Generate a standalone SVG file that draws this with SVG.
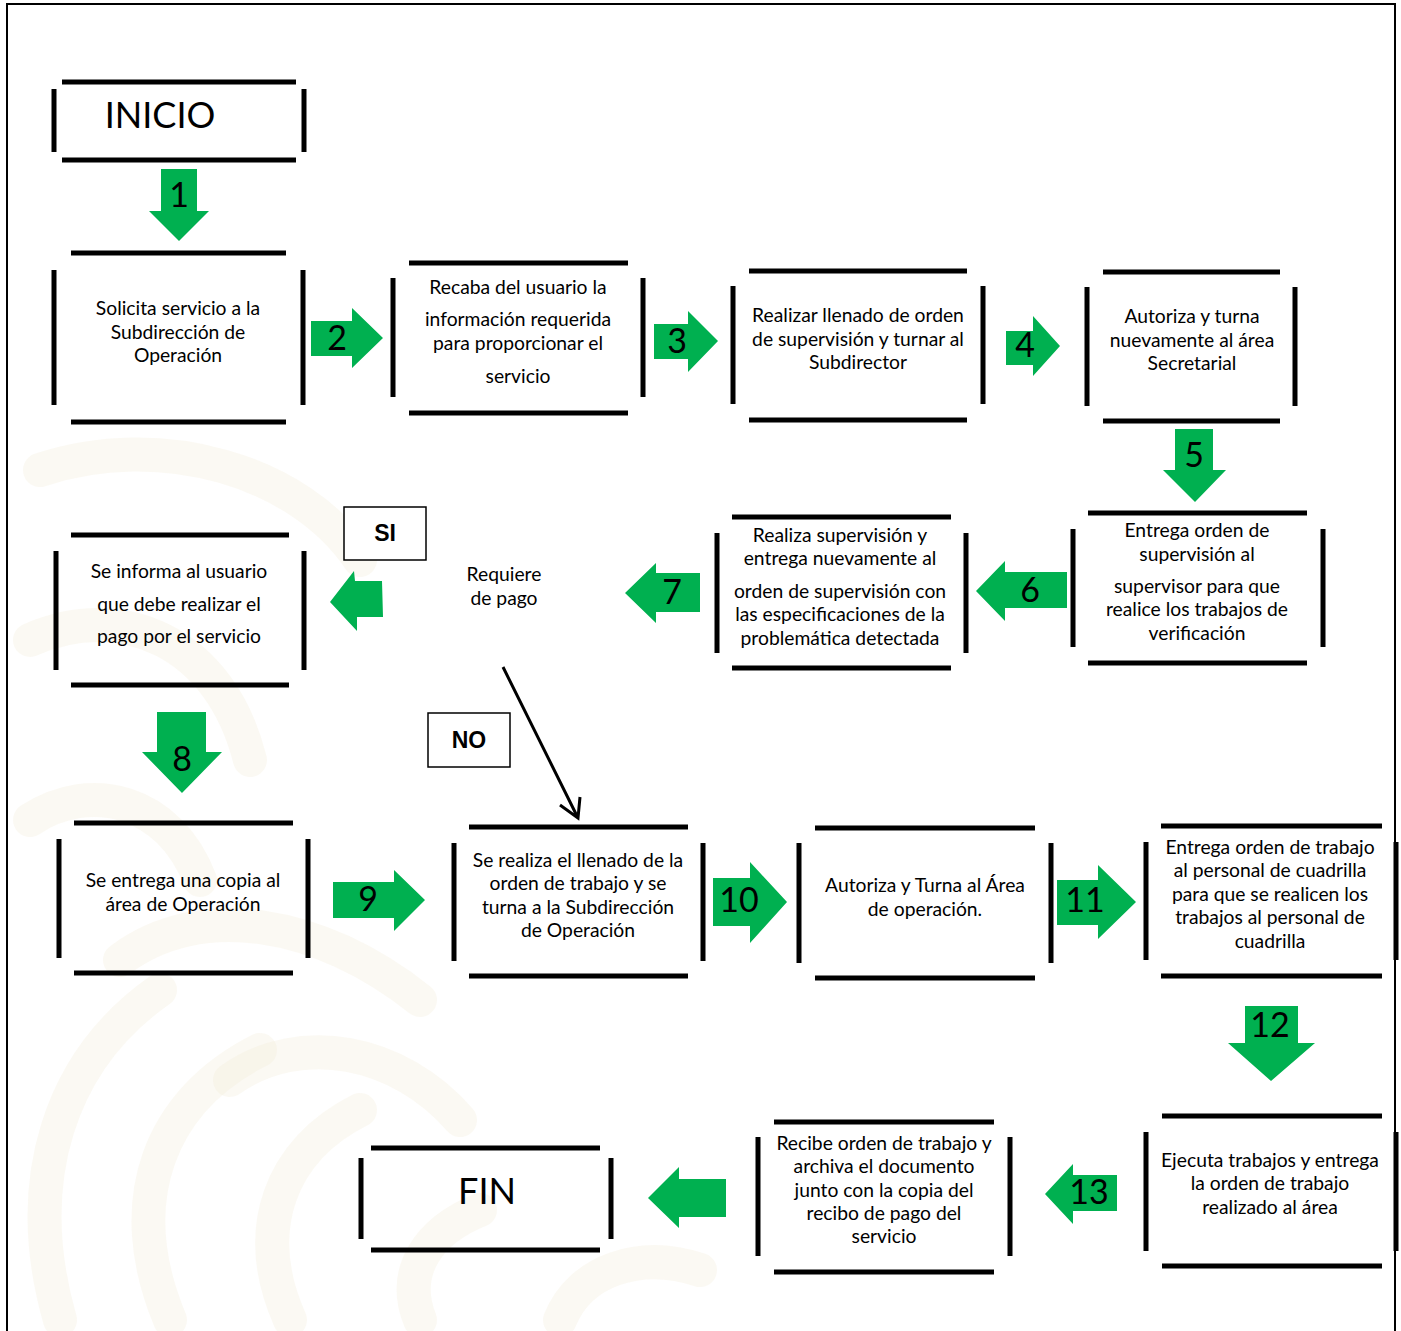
<svg xmlns="http://www.w3.org/2000/svg" width="1401" height="1331" viewBox="0 0 1401 1331">
  <style>
    .bar { fill: none; stroke: #000; stroke-width: 5; stroke-linecap: butt; }
    .txt { font-family: Lato, "Liberation Sans", sans-serif; font-size: 19.3px; fill: #000; text-anchor: middle; }
    .big { font-family: Lato, "Liberation Sans", sans-serif; font-size: 36px; fill: #000; text-anchor: middle; }
    .num { font-family: Lato, "Liberation Sans", sans-serif; font-size: 34px; fill: #000; text-anchor: middle; }
    .tag { font-family: "Liberation Sans", Arial, sans-serif; font-size: 23px; font-weight: bold; fill: #000; text-anchor: middle; }
    .tagbox { fill: #fff; stroke: #000; stroke-width: 1.5; }
    .flow { fill: #00B050; }
    .mark { fill: none; stroke: #f3ecd6; stroke-width: 34; stroke-linecap: round; opacity: 0.3; }
  </style>

  <rect width="1401" height="1331" fill="#fff"/>

  <!-- faint background emblem pattern -->
  <g id="watermark">
    <path class="mark" d="M40 470 C 160 430 300 470 360 560"/>
    <path class="mark" d="M30 640 C 120 600 220 640 250 760"/>
    <path class="mark" d="M60 1320 C 20 1180 60 1060 160 990"/>
    <path class="mark" d="M170 1320 C 120 1200 160 1100 260 1050"/>
    <path class="mark" d="M290 1320 C 250 1230 280 1150 360 1110"/>
    <path class="mark" d="M420 1320 C 400 1270 430 1230 480 1210"/>
    <path class="mark" d="M120 960 C 200 900 320 920 420 1000"/>
    <path class="mark" d="M230 1080 C 300 1030 400 1050 460 1120"/>
    <path class="mark" d="M560 1320 C 580 1270 640 1250 700 1270"/>
    <path class="mark" d="M30 820 C 90 780 170 800 200 880"/>
  </g>

  <!-- page frame -->
  <path d="M7 1331 V4 H1395 V1331" fill="none" stroke="#000" stroke-width="2"/>

  <!-- connectors -->
  <g id="connectors">
    <polygon class="flow" points="161,169 197,169 197,211 209,211 179,241 149,211 161,211"/>
    <text class="num" x="179" y="207">1</text>

    <polygon class="flow" points="311,321 352,321 352,308 383,338 352,368 352,356 311,356"/>
    <text class="num" x="337" y="350">2</text>

    <polygon class="flow" points="654,324 688,324 688,311 718,341 688,372 688,359 654,359"/>
    <text class="num" x="677" y="353">3</text>

    <polygon class="flow" points="1006,331 1033,331 1033,316 1060,346 1033,376 1033,365 1006,365"/>
    <text class="num" x="1025" y="357">4</text>

    <polygon class="flow" points="1175,429 1213,429 1213,470 1226,470 1195,502 1163,470 1175,470"/>
    <text class="num" x="1194" y="467">5</text>

    <polygon class="flow" points="976,591 1005,561 1005,572 1067,572 1067,608 1005,608 1005,621"/>
    <text class="num" x="1030" y="602">6</text>

    <polygon class="flow" points="625,593 656,563 656,573 700,573 700,612 656,612 656,623"/>
    <text class="num" x="672" y="604">7</text>

    <polygon class="flow" points="330,602 354,571 355,581 382,581 383,617 357,617 357,631"/>

    <polygon class="flow" points="157,712 206,712 206,752 222,752 182,793 142,752 157,752"/>
    <text class="num" x="182" y="771">8</text>

    <polygon class="flow" points="333,882 394,882 394,870 425,900 394,931 394,918 333,918"/>
    <text class="num" x="368" y="911">9</text>

    <polygon class="flow" points="713,878 750,878 750,862 787,902 750,943 750,926 713,926"/>
    <text class="num" x="739" y="912">10</text>

    <polygon class="flow" points="1057,880 1098,880 1098,865 1136,902 1098,939 1098,925 1057,925"/>
    <text class="num" x="1085" y="912">11</text>

    <polygon class="flow" points="1245,1006 1298,1006 1298,1043 1315,1043 1271,1081 1228,1043 1245,1043"/>
    <text class="num" x="1270" y="1037">12</text>

    <polygon class="flow" points="1045,1194 1073,1164 1073,1175 1117,1175 1117,1211 1073,1211 1073,1224"/>
    <text class="num" x="1089" y="1204">13</text>

    <polygon class="flow" points="648,1198 679,1167 679,1179 726,1179 726,1217 679,1217 679,1228"/>

    <!-- "NO" branch -->
    <path d="M503 667 L578 818 M560 805 L578 818 L580 797" fill="none" stroke="#000" stroke-width="3" stroke-linejoin="miter"/>

    <rect class="tagbox" x="344" y="507" width="82" height="53"/>
    <text class="tag" x="385" y="541">SI</text>
    <rect class="tagbox" x="428" y="713" width="82" height="54"/>
    <text class="tag" x="469" y="748">NO</text>
  </g>

  <g id="inicio">
    <path class="bar" d="M62 82 H296 M62 160 H296 M54 89 V152 M304 89 V152"/>
    <text class="big" x="160" y="128">INICIO</text>
  </g>

  <g id="solicita">
    <path class="bar" d="M71 253 H286 M71 422 H286 M54 270 V405 M303 270 V405"/>
    <text class="txt" x="178" y="315">Solicita servicio a la</text>
    <text class="txt" x="178" y="339">Subdirección de</text>
    <text class="txt" x="178" y="362">Operación</text>
  </g>

  <g id="recaba">
    <path class="bar" d="M409 263 H628 M409 413 H628 M393 278 V397 M643 278 V397"/>
    <text class="txt" x="518" y="294">Recaba del usuario la</text>
    <text class="txt" x="518" y="326">información requerida</text>
    <text class="txt" x="518" y="350">para proporcionar el</text>
    <text class="txt" x="518" y="383">servicio</text>
  </g>

  <g id="realizar-llenado">
    <path class="bar" d="M749 271 H967 M749 420 H967 M733 286 V404 M983 286 V404"/>
    <text class="txt" x="858" y="322">Realizar llenado de orden</text>
    <text class="txt" x="858" y="346">de supervisión y turnar al</text>
    <text class="txt" x="858" y="369">Subdirector</text>
  </g>

  <g id="autoriza-turna">
    <path class="bar" d="M1103 272 H1280 M1103 421 H1280 M1087 287 V406 M1295 287 V406"/>
    <text class="txt" x="1192" y="323">Autoriza y turna</text>
    <text class="txt" x="1192" y="347">nuevamente al área</text>
    <text class="txt" x="1192" y="370">Secretarial</text>
  </g>

  <g id="entrega-supervision">
    <path class="bar" d="M1088 513 H1307 M1088 663 H1307 M1073 529 V647 M1323 529 V647"/>
    <text class="txt" x="1197" y="537">Entrega orden de</text>
    <text class="txt" x="1197" y="561">supervisión al</text>
    <text class="txt" x="1197" y="593">supervisor para que</text>
    <text class="txt" x="1197" y="616">realice los trabajos de</text>
    <text class="txt" x="1197" y="640">verificación</text>
  </g>

  <g id="realiza-supervision">
    <path class="bar" d="M732 517 H951 M732 668 H951 M717 533 V653 M966 533 V653"/>
    <text class="txt" x="840" y="542">Realiza supervisión y</text>
    <text class="txt" x="840" y="565">entrega nuevamente al</text>
    <text class="txt" x="840" y="598">orden de supervisión con</text>
    <text class="txt" x="840" y="621">las especificaciones de la</text>
    <text class="txt" x="840" y="645">problemática detectada</text>
  </g>

  <g id="requiere-pago">
    <text class="txt" x="504" y="581">Requiere</text>
    <text class="txt" x="504" y="605">de pago</text>
  </g>

  <g id="informa-usuario">
    <path class="bar" d="M71 535 H289 M71 685 H289 M56 551 V670 M304 551 V670"/>
    <text class="txt" x="179" y="578">Se informa al usuario</text>
    <text class="txt" x="179" y="611">que debe realizar el</text>
    <text class="txt" x="179" y="643">pago por el servicio</text>
  </g>

  <g id="entrega-copia">
    <path class="bar" d="M74 823 H293 M74 973 H293 M59 839 V958 M308 839 V958"/>
    <text class="txt" x="183" y="887">Se entrega una copia al</text>
    <text class="txt" x="183" y="911">área de Operación</text>
  </g>

  <g id="llenado-trabajo">
    <path class="bar" d="M469 827 H688 M469 976 H688 M454 843 V961 M703 843 V961"/>
    <text class="txt" x="578" y="867">Se realiza el llenado de la</text>
    <text class="txt" x="578" y="890">orden de trabajo y se</text>
    <text class="txt" x="578" y="914">turna a la Subdirección</text>
    <text class="txt" x="578" y="937">de Operación</text>
  </g>

  <g id="autoriza-area">
    <path class="bar" d="M815 828 H1035 M815 978 H1035 M799 843 V963 M1051 843 V963"/>
    <text class="txt" x="925" y="892">Autoriza y Turna al Área</text>
    <text class="txt" x="925" y="916">de operación.</text>
  </g>

  <g id="entrega-trabajo">
    <path class="bar" d="M1161 826 H1382 M1161 976 H1382 M1146 842 V960 M1396 842 V960"/>
    <text class="txt" x="1270" y="854">Entrega orden de trabajo</text>
    <text class="txt" x="1270" y="877">al personal de cuadrilla</text>
    <text class="txt" x="1270" y="901">para que se realicen los</text>
    <text class="txt" x="1270" y="924">trabajos al personal de</text>
    <text class="txt" x="1270" y="948">cuadrilla</text>
  </g>

  <g id="ejecuta">
    <path class="bar" d="M1162 1116 H1382 M1162 1266 H1382 M1146 1132 V1251 M1396 1132 V1251"/>
    <text class="txt" x="1270" y="1167">Ejecuta trabajos y entrega</text>
    <text class="txt" x="1270" y="1190">la orden de trabajo</text>
    <text class="txt" x="1270" y="1214">realizado al área</text>
  </g>

  <g id="recibe">
    <path class="bar" d="M774 1122 H994 M774 1272 H994 M758 1137 V1256 M1010 1137 V1256"/>
    <text class="txt" x="884" y="1150">Recibe orden de trabajo y</text>
    <text class="txt" x="884" y="1173">archiva el documento</text>
    <text class="txt" x="884" y="1197">junto con la copia del</text>
    <text class="txt" x="884" y="1220">recibo de pago del</text>
    <text class="txt" x="884" y="1243">servicio</text>
  </g>

  <g id="fin">
    <path class="bar" d="M371 1148 H600 M371 1250 H600 M361 1158 V1239 M611 1158 V1239"/>
    <text class="big" x="487" y="1204">FIN</text>
  </g>
</svg>
